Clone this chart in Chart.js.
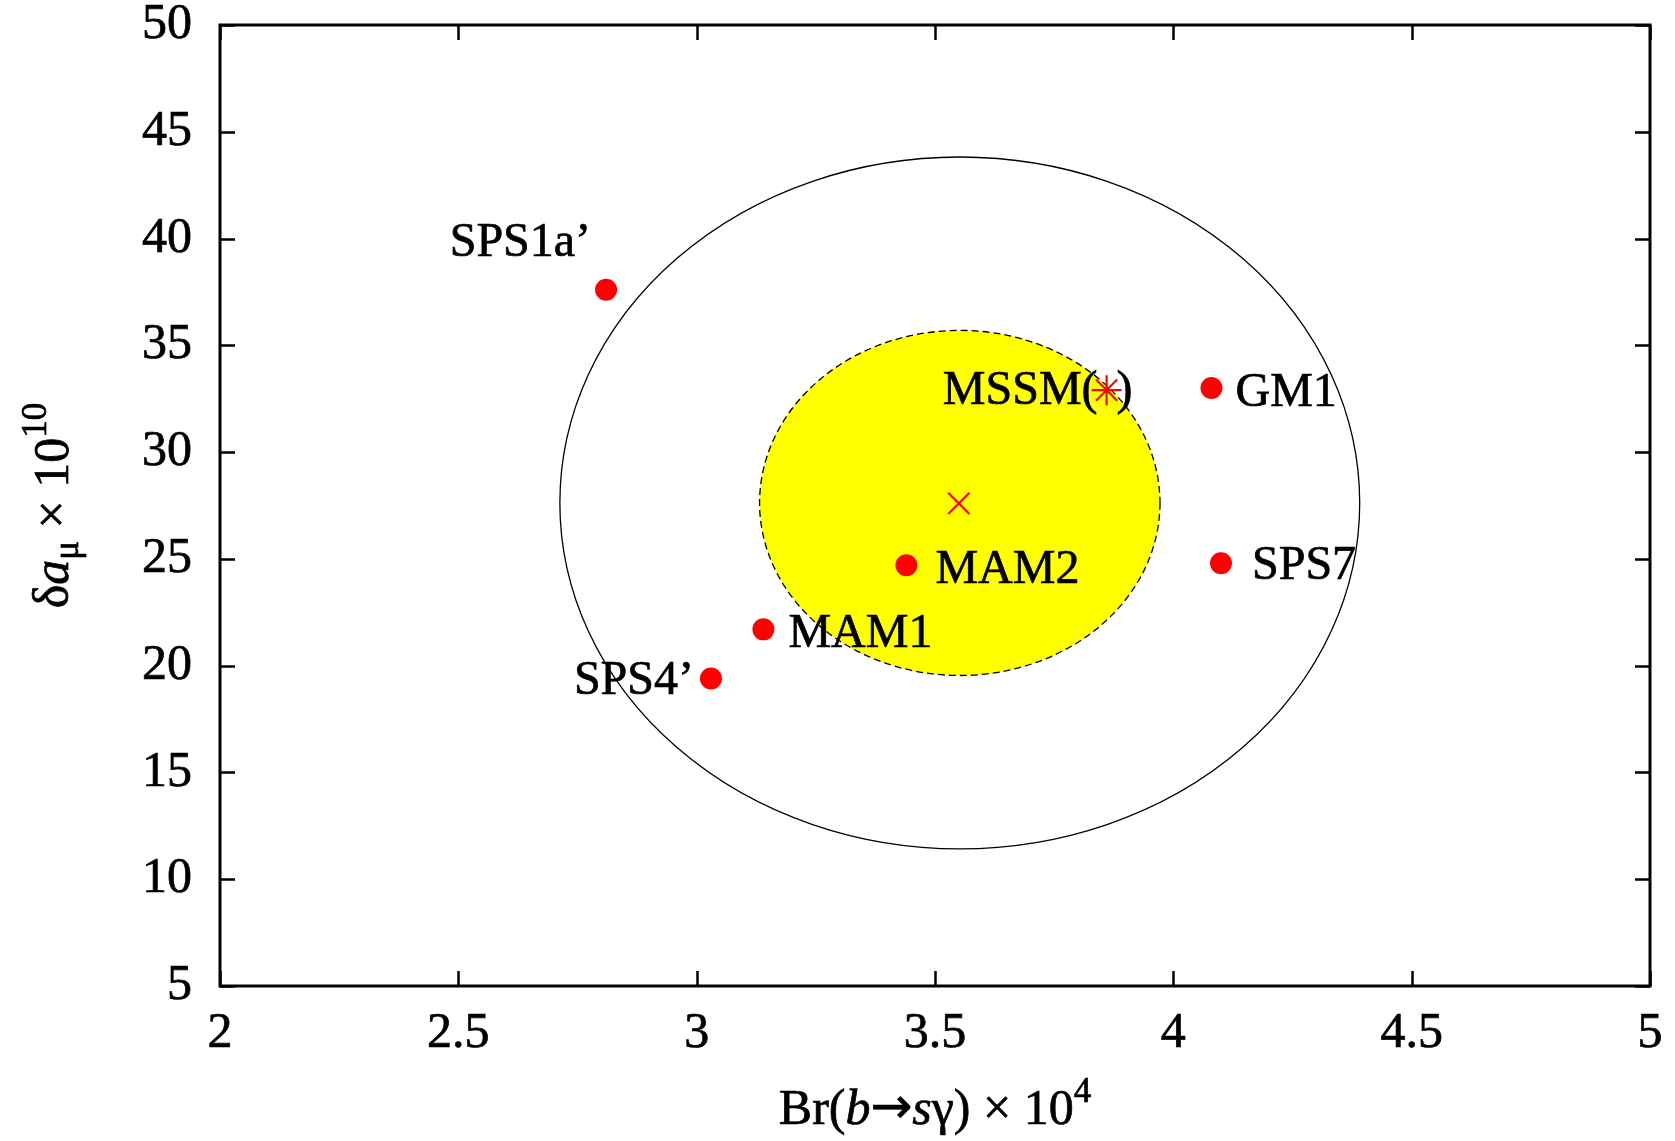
<!DOCTYPE html>
<html>
<head>
<meta charset="utf-8">
<title>Br(b→sγ) vs δa_μ</title>
<script src="https://cdn.jsdelivr.net/npm/chart.js@4.4.1/dist/chart.umd.min.js"></script>
<style>
  html, body { margin: 0; padding: 0; background: #fff; }
  #wrap { width: 1675px; height: 1141px; }
</style>
</head>
<body>
<div id="wrap"><canvas id="chart" width="1675" height="1141"></canvas></div>
<script>
// axis ticks
const xTicks = [2, 2.5, 3, 3.5, 4, 4.5, 5];
const yTicks = [5, 10, 15, 20, 25, 30, 35, 40, 45, 50];

// benchmark points
const pointNames = ['SPS1a’', 'SPS4’', 'MAM1', 'MAM2', 'GM1', 'SPS7'];
const pointBr = [2.81, 3.03, 3.14, 3.44, 4.08, 4.10];
const pointAmu = [37.6, 19.4, 21.7, 24.7, 33.0, 24.8];

// MSSM(*) point and experimental central value
const mssmBr = [3.86];
const mssmAmu = [32.9];
const expBr = [3.55];
const expAmu = [27.6];

// 1 sigma / 2 sigma regions: centre and half widths
const regionCenter = [3.552, 27.62];
const innerHalf = [0.42, 8.08];
const outerHalf = [0.839, 16.2];

const FONT = '"Liberation Serif", "Times New Roman", serif';

// label placement (pixels relative to the marker)
const labelPlace = {
    'SPS1a’': { align: 'right', dx: -15, dy: -50 },
    'SPS4’': { align: 'right', dx: -17, dy: 0 },
    'MAM1': { align: 'left', dx: 25, dy: 2 },
    'MAM2': { align: 'left', dx: 29, dy: 2 },
    'GM1': { align: 'left', dx: 24, dy: 2 },
    'SPS7': { align: 'left', dx: 31, dy: 0 }
};

function text(ctx, s, x, y) {
    ctx.strokeText(s, x, y);
    ctx.fillText(s, x, y);
}

function drawRuns(ctx, runs, x, y, center) {
    // runs: [text, font, baseline shift]
    let total = 0;
    runs.forEach(r => { ctx.font = r[1]; total += ctx.measureText(r[0]).width; });
    let cx = center ? x - total / 2 : x;
    runs.forEach(r => {
        ctx.font = r[1];
        text(ctx, r[0], cx, y + r[2]);
        cx += ctx.measureText(r[0]).width;
    });
}

const regionsPlugin = {
    id: 'regions',
    beforeDatasetsDraw(chart) {
        const { ctx, chartArea, scales: { x, y } } = chart;
        const cx = x.getPixelForValue(regionCenter[0]);
        const cy = y.getPixelForValue(regionCenter[1]);
        ctx.save();
        ctx.beginPath();
        ctx.rect(chartArea.left, chartArea.top, chartArea.width, chartArea.height);
        ctx.clip();

        // outer region
        ctx.beginPath();
        ctx.ellipse(cx, cy,
            x.getPixelForValue(regionCenter[0] + outerHalf[0]) - cx,
            cy - y.getPixelForValue(regionCenter[1] + outerHalf[1]), 0, 0, Math.PI * 2);
        ctx.strokeStyle = '#000';
        ctx.lineWidth = 1.3;
        ctx.stroke();

        // inner region
        ctx.beginPath();
        ctx.ellipse(cx, cy,
            x.getPixelForValue(regionCenter[0] + innerHalf[0]) - cx,
            cy - y.getPixelForValue(regionCenter[1] + innerHalf[1]), 0, 0, Math.PI * 2);
        ctx.fillStyle = '#ffff00';
        ctx.fill();
        ctx.setLineDash([7, 4]);
        ctx.lineWidth = 1.3;
        ctx.stroke();
        ctx.restore();
    }
};

const framePlugin = {
    id: 'frame',
    afterDatasetsDraw(chart) {
        const { ctx, chartArea: a, scales: { x, y } } = chart;
        ctx.save();
        ctx.strokeStyle = '#000';
        ctx.lineWidth = 3;
        ctx.strokeRect(a.left, a.top, a.right - a.left, a.bottom - a.top);
        ctx.lineWidth = 2.5;
        ctx.beginPath();
        const tl = 15;
        xTicks.forEach(v => {
            const px = Math.round(x.getPixelForValue(v)) + 0.5;
            ctx.moveTo(px, a.bottom); ctx.lineTo(px, a.bottom - tl);
            ctx.moveTo(px, a.top); ctx.lineTo(px, a.top + tl);
        });
        yTicks.forEach(v => {
            const py = Math.round(y.getPixelForValue(v)) + 0.5;
            ctx.moveTo(a.left, py); ctx.lineTo(a.left + tl, py);
            ctx.moveTo(a.right, py); ctx.lineTo(a.right - tl, py);
        });
        ctx.stroke();

        // point labels
        ctx.fillStyle = '#000';
        ctx.lineWidth = 0.7;
        ctx.font = '48px ' + FONT;
        ctx.textBaseline = 'alphabetic';
        const meta = chart.getDatasetMeta(0);
        meta.data.forEach((pt, i) => {
            const p = labelPlace[pointNames[i]];
            ctx.textAlign = p.align;
            text(ctx, pointNames[i], pt.x + p.dx, pt.y + p.dy + 16);
        });
        const m = chart.getDatasetMeta(1).data[0];
        ctx.textAlign = 'right';
        text(ctx, 'MSSM(', m.x - 9, m.y + 14);
        ctx.textAlign = 'left';
        text(ctx, ')', m.x + 10, m.y + 14);

        // axis titles
        ctx.textAlign = 'left';
        const big = '50px ' + FONT;
        const it = 'italic 50px ' + FONT;
        const small = '35px ' + FONT;
        drawRuns(ctx, [
            ['Br(', big, 0], ['b', it, 0], ['→', '50px "DejaVu Sans"', -1], ['s', it, 0],
            ['γ', big, 0], [') × 10', big, 0], ['4', small, -22]
        ], (a.left + a.right) / 2, 1124, true);

        ctx.translate(68, (a.top + a.bottom) / 2);
        ctx.rotate(-Math.PI / 2);
        drawRuns(ctx, [
            ['δ', big, 0], ['a', it, 0], ['μ', small, 10],
            [' × 10', big, 0], ['10', small, -22]
        ], 0, 0, true);
        ctx.restore();
    }
};

const tickFont = { family: FONT, size: 50 };

const ctx = document.getElementById('chart').getContext('2d');
new Chart(ctx, {
    type: 'scatter',
    data: {
        datasets: [
            {
                label: 'benchmarks',
                data: pointBr.map((v, i) => ({ x: v, y: pointAmu[i] })),
                pointStyle: 'circle',
                pointRadius: 11,
                backgroundColor: '#ff0000',
                borderWidth: 0
            },
            {
                label: 'MSSM(*)',
                data: mssmBr.map((v, i) => ({ x: v, y: mssmAmu[i] })),
                pointStyle: 'star',
                pointRadius: 15,
                borderColor: '#ff0000',
                borderWidth: 2.2
            },
            {
                label: 'experiment',
                data: expBr.map((v, i) => ({ x: v, y: expAmu[i] })),
                pointStyle: 'crossRot',
                pointRadius: 15,
                borderColor: '#ff0000',
                borderWidth: 2.2
            }
        ]
    },
    options: {
        responsive: false,
        animation: false,
        layout: { padding: { top: 25, right: 25, left: 0, bottom: 0 } },
        plugins: {
            legend: { display: false },
            tooltip: { enabled: false }
        },
        scales: {
            x: {
                type: 'linear',
                min: 2,
                max: 5,
                afterBuildTicks: (s) => { s.ticks = xTicks.map(v => ({ value: v })); },
                grid: { display: false, drawTicks: false },
                border: { display: false },
                ticks: {
                    padding: 18,
                    color: '#000',
                    font: tickFont,
                    textStrokeColor: '#000',
                    textStrokeWidth: 0.7,
                    callback: (v) => String(v),
                    maxRotation: 0,
                    autoSkip: false
                },
                afterFit: (s) => {
                    s.height = 155;
                    s.paddingLeft = 0;
                    s.paddingRight = 0;
                }
            },
            y: {
                type: 'linear',
                min: 5,
                max: 50,
                afterBuildTicks: (s) => { s.ticks = yTicks.map(v => ({ value: v })); },
                grid: { display: false, drawTicks: false },
                border: { display: false },
                ticks: {
                    padding: 28,
                    color: '#000',
                    font: tickFont,
                    textStrokeColor: '#000',
                    textStrokeWidth: 0.7,
                    callback: (v) => String(v),
                    autoSkip: false
                },
                afterFit: (s) => {
                    s.width = 220;
                    s.paddingTop = 0;
                    s.paddingBottom = 0;
                }
            }
        }
    },
    plugins: [regionsPlugin, framePlugin]
});
</script>
</body>
</html>
